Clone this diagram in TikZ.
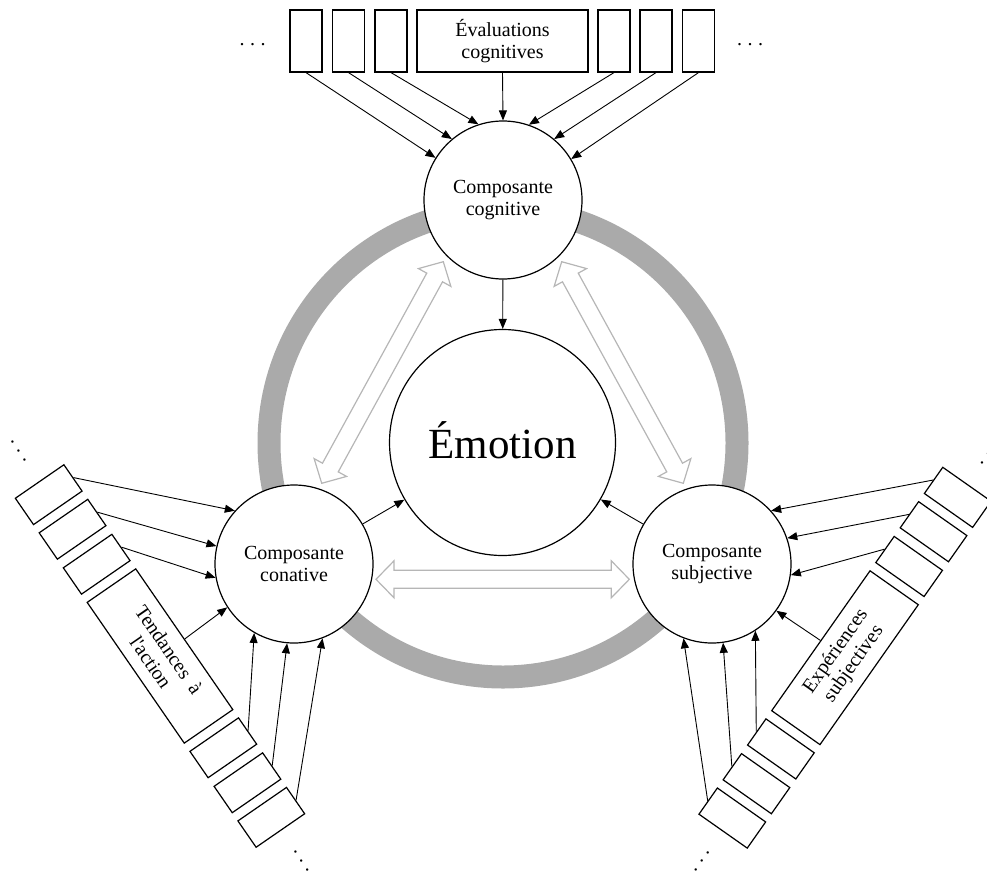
\documentclass[tikz,border=0pt]{standalone}
\usepackage{fontspec}
\setmainfont{Liberation Serif}[Ligatures=TeXOff]
\usetikzlibrary{arrows.meta,calc}
\definecolor{ringgray}{RGB}{170,170,170}
\definecolor{hgray}{RGB}{182,182,182}
\begin{document}
\begin{tikzpicture}[x=1pt,y=-1pt,
  every node/.style={font=\fontsize{20}{22}\selectfont},
  circ/.style={circle, draw, line width=1.2pt, fill=white, minimum size=158pt, inner sep=0pt, align=center},
  sbox/.style={draw, line width=1.2pt, fill=white, minimum width=32pt, minimum height=62pt, inner sep=0pt},
  bbox/.style={draw, line width=1.2pt, fill=white, minimum width=171pt, minimum height=62pt, inner sep=0pt, align=center},
  arr/.style={line width=0.9pt, -{Triangle[length=10pt,width=8pt]}},
  dotsn/.style={inner sep=0pt},
  harrow/.style={draw=hgray, fill=white, line width=1.2pt, line join=miter,
    to path={
      -- ($(\tikztostart)!18pt!(\tikztotarget)!18.5pt!90:(\tikztotarget)$)
      -- ($(\tikztostart)!18pt!(\tikztotarget)!9pt!90:(\tikztotarget)$)
      -- ($(\tikztotarget)!18pt!(\tikztostart)!9pt!-90:(\tikztostart)$)
      -- ($(\tikztotarget)!18pt!(\tikztostart)!18.5pt!-90:(\tikztostart)$)
      -- (\tikztotarget)
      -- ($(\tikztotarget)!18pt!(\tikztostart)!18.5pt!90:(\tikztostart)$)
      -- ($(\tikztotarget)!18pt!(\tikztostart)!9pt!90:(\tikztostart)$)
      -- ($(\tikztostart)!18pt!(\tikztotarget)!9pt!-90:(\tikztotarget)$)
      -- ($(\tikztostart)!18pt!(\tikztotarget)!18.5pt!-90:(\tikztotarget)$)
      -- cycle}}
]
\useasboundingbox (0,0) rectangle (987,875);
\clip (0,0) rectangle (987,875);

% grey ring
\draw[ringgray, line width=23pt] (503,443) circle[radius=234pt];

% hollow double arrows
\coordinate (ha1) at (376,579.3);
\coordinate (ha2) at (629.3,579.3);
\coordinate (da1) at (321.7,483.3);
\coordinate (da2) at (443.3,261.7);
\coordinate (db1) at (561.7,261.7);
\coordinate (db2) at (683.3,483.3);
\draw[harrow] (ha1) to (ha2);
\draw[harrow] (da1) to (da2);
\draw[harrow] (db1) to (db2);

% circles
\node[circle, draw, line width=1.2pt, fill=white, minimum size=226pt, inner sep=0pt,
      font=\fontsize{43}{43}\selectfont] (emo) at (502.5,442.5) {\raisebox{4pt}{Émotion}};
\node[circ] (cog) at (503,200) {Composante\\cognitive};
\node[circ] (con) at (294,564) {Composante\\conative};
\node[circ] (sub) at (712,564) {Composante\\subjective};

\draw[arr] (cog) -- (emo);
\draw[arr] (con) -- (emo);
\draw[arr] (sub) -- (emo);

% top group
\node[sbox] (t1) at (306,41) {};
\node[sbox] (t2) at (348.5,41) {};
\node[sbox] (t3) at (391,41) {};
\node[bbox] (t4) at (502.5,41) {Évaluations\\cognitives};
\node[sbox] (t5) at (614,41) {};
\node[sbox] (t6) at (656,41) {};
\node[sbox] (t7) at (698.5,41) {};
\node[dotsn] (td1) at (252.5,45) {.\kern5.5pt.\kern5.5pt.};
\node[dotsn] (td2) at (750,45) {.\kern5.5pt.\kern5.5pt.};

% left group
\begin{scope}[shift={(160,656)}, rotate=-55.4, transform shape]
  \node[sbox, minimum height=59pt] (l1) at (-196,0) {};
  \node[sbox, minimum height=59pt] (l2) at (-154,0) {};
  \node[sbox, minimum height=59pt] (l3) at (-111.5,0) {};
  \node[bbox, minimum height=59pt] (l4) at (0,0) {Tendances \ à\\l'action};
  \node[sbox, minimum height=59pt] (l5) at (111.5,0) {};
  \node[sbox, minimum height=59pt] (l6) at (154,0) {};
  \node[sbox, minimum height=59pt] (l7) at (196,0) {};
  \node[dotsn] (ld1) at (-249,0) {.\kern5.5pt.\kern5.5pt.};
  \node[dotsn] (ld2) at (249,0) {.\kern5.5pt.\kern5.5pt.};
\end{scope}

% right group
\begin{scope}[shift={(845,657.7)}, rotate=54.9, transform shape]
  \node[sbox, minimum height=59pt] (r1) at (196,0) {};
  \node[sbox, minimum height=59pt] (r2) at (154,0) {};
  \node[sbox, minimum height=59pt] (r3) at (111.5,0) {};
  \node[bbox, minimum height=59pt] (r4) at (0,0) {Expériences\\subjectives};
  \node[sbox, minimum height=59pt] (r5) at (-111.5,0) {};
  \node[sbox, minimum height=59pt] (r6) at (-154,0) {};
  \node[sbox, minimum height=59pt] (r7) at (-196,0) {};
  \node[dotsn] (rd1) at (249,0) {.\kern5.5pt.\kern5.5pt.};
  \node[dotsn] (rd2) at (-249,0) {.\kern5.5pt.\kern5.5pt.};
\end{scope}

% top arrows
\draw[arr] (t1.south) -- (cog.148.4);
\draw[arr] (t2.south) -- (cog.130);
\draw[arr] (t3.south) -- (cog.108.4);
\draw[arr] (t4.south) -- (cog.90);
\draw[arr] (t5.south) -- (cog.71.6);
\draw[arr] (t6.south) -- (cog.50);
\draw[arr] (t7.south) -- (cog.31.6);

% left arrows
\draw[arr] (l1.north) -- (con.138.7);
\draw[arr] (l2.north) -- (con.167.8);
\draw[arr] (l3.north) -- (con.190.3);
\draw[arr] (l4.north) -- (con.213.4);
\draw[arr] (l5.north) -- (con.240);
\draw[arr] (l6.north) -- (con.265);
\draw[arr] (l7.north) -- (con.291.5);

% right arrows
\draw[arr] (r1.north) -- (sub.42.1);
\draw[arr] (r2.north) -- (sub.19);
\draw[arr] (r3.north) -- (sub.-8);
\draw[arr] (r4.north) -- (sub.-36.7);
\draw[arr] (r5.north) -- (sub.-57);
\draw[arr] (r6.north) -- (sub.-82.9);
\draw[arr] (r7.north) -- (sub.-111.9);
\end{tikzpicture}
\end{document}
